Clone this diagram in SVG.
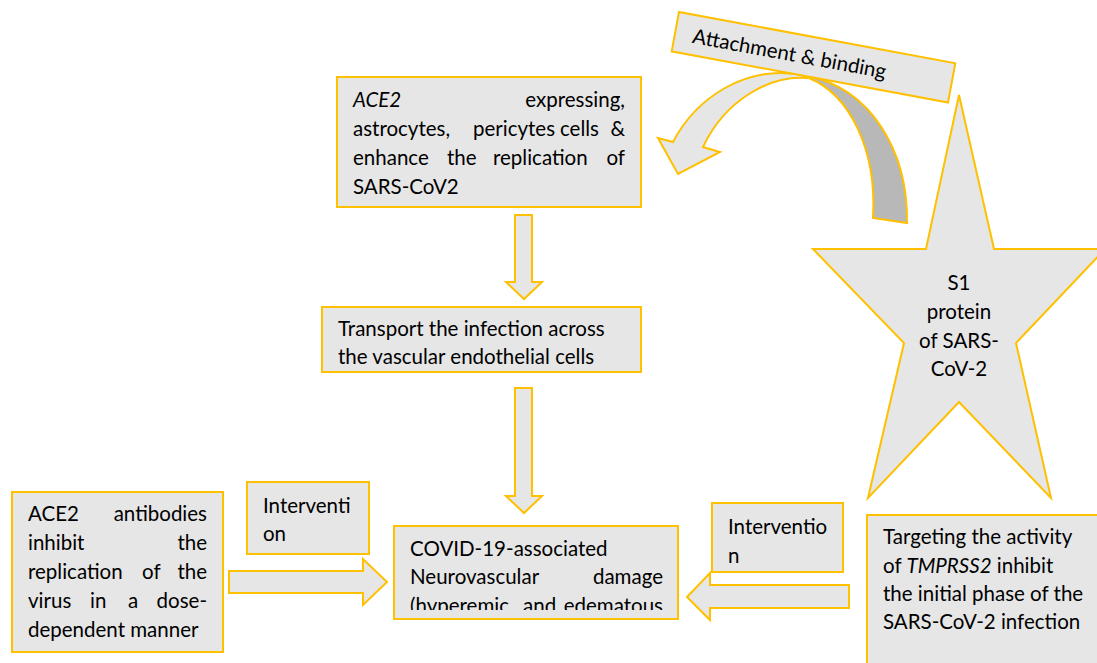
<svg xmlns="http://www.w3.org/2000/svg" width="1097" height="663" viewBox="0 0 1097 663">
<defs>
<style>
.box{fill:#e6e6e6;stroke:#ffc000;stroke-width:2}
.dark{fill:#b8b8b8;stroke:#ffc000;stroke-width:2}
text{font-family:Lato,"Open Sans","Liberation Sans",sans-serif;font-size:20.5px;fill:#000}
.e{text-anchor:end}
.m{text-anchor:middle}
.i{font-style:italic}
</style>
<clipPath id="clipCovid"><rect x="395" y="527" width="282" height="83"/></clipPath>
</defs>
<rect width="1097" height="663" fill="#fff"/>

<g id="connectors">
<path class="box" d="M515,215 L532,215 L532,282 L542,282 L524,299 L506,282 L515,282 Z"/>
<path class="box" d="M515,388 L532,388 L532,496 L542,496 L524,513 L506,496 L515,496 Z"/>
<path class="box" d="M229,571 L363,571 L363,559 L387,582 L363,605 L363,593 L229,593 Z"/>
<path class="box" d="M849,585 L710,585 L710,573 L687,597 L710,620 L710,608 L849,608 Z"/>
<g id="curved-arrow">
<path class="dark" d="M807,76 C870,88 908,150 907,223 L873,218 C877,150 850,95 809,78 Z"/>
<path class="box" d="M658,138 L673,142 C695,100 745,62 807,76 L807,78 C770,75 725,100 703,147 L720,152 L678,174 Z"/>
</g>
</g>

<g id="node-attachment" transform="translate(679,12) rotate(10.5)">
<rect class="box" x="0" y="0" width="281" height="40"/>
<text x="18" y="28">Attachment &amp; binding</text>
</g>

<g id="node-ace2">
<rect class="box" x="337" y="77" width="304" height="130"/>
<text x="353" y="107" class="i">ACE2</text>
<text x="625" y="107" class="e">expressing,</text>
<text x="353" y="136">astrocytes,</text>
<text x="473" y="136">pericytes</text>
<text x="560" y="136">cells</text>
<text x="625" y="136" class="e">&amp;</text>
<text x="353" y="165">enhance</text>
<text x="447" y="165">the</text>
<text x="493" y="165">replication</text>
<text x="625" y="165" class="e">of</text>
<text x="353" y="194">SARS-CoV2</text>
</g>

<g id="node-transport">
<rect class="box" x="322" y="307" width="319" height="65"/>
<text x="338" y="336">Transport the infection across</text>
<text x="338" y="364">the vascular endothelial cells</text>
</g>

<g id="node-covid">
<rect class="box" x="394" y="526" width="284" height="93"/>
<g clip-path="url(#clipCovid)">
<text x="410" y="556">COVID-19-associated</text>
<text x="410" y="584">Neurovascular</text>
<text x="663" y="584" class="e">damage</text>
<text x="410" y="613">(hyperemic</text>
<text x="523" y="613">and</text>
<text x="663" y="613" class="e">edematous</text>
</g>
</g>

<g id="node-antibodies">
<rect class="box" x="12" y="492" width="211" height="160"/>
<text x="28" y="521">ACE2</text>
<text x="207" y="521" class="e">antibodies</text>
<text x="28" y="550">inhibit</text>
<text x="207" y="550" class="e">the</text>
<text x="28" y="579">replication</text>
<text x="142" y="579">of</text>
<text x="207" y="579" class="e">the</text>
<text x="28" y="608">virus</text>
<text x="90" y="608">in</text>
<text x="128" y="608">a</text>
<text x="207" y="608" class="e">dose-</text>
<text x="28" y="637">dependent manner</text>
</g>

<g id="node-intervention-left">
<rect class="box" x="247" y="482" width="122" height="72"/>
<text x="263" y="513">Interventi</text>
<text x="263" y="541">on</text>
</g>

<g id="node-intervention-right">
<rect class="box" x="712" y="503" width="131" height="69"/>
<text x="728" y="534">Interventio</text>
<text x="728" y="563">n</text>
</g>

<g id="node-star">
<path class="box" d="M959,95 L994,249 L1105,249 L1016,343 L1051,498 L959,402 L868,498 L904,343 L813,249 L926,249 Z"/>
<text x="959" y="290" class="m">S1</text>
<text x="959" y="319" class="m">protein</text>
<text x="959" y="348" class="m">of SARS-</text>
<text x="959" y="376" class="m">CoV-2</text>
</g>

<g id="node-targeting">
<rect class="box" x="867" y="515" width="240" height="160"/>
<text x="883" y="544">Targeting the activity</text>
<text x="883" y="573">of <tspan class="i">TMPRSS2</tspan> inhibit</text>
<text x="883" y="601">the initial phase of the</text>
<text x="883" y="629">SARS-CoV-2 infection</text>
</g>
</svg>
